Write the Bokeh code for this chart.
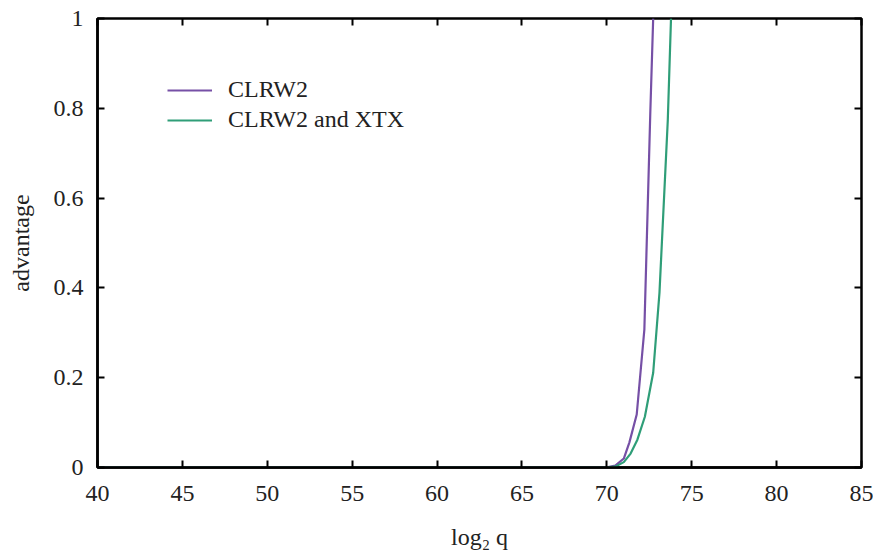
from bokeh.plotting import figure
from bokeh.models import (Range1d, FixedTicker, LinearAxis, Legend, LegendItem)
from bokeh.embed import file_html
from bokeh.resources import INLINE

# ---- data ----
q_clrw2 = [40, 45, 50, 55, 60, 65, 70, 70.5, 71.0, 71.33, 71.76, 72.21, 72.56, 72.73]
adv_clrw2 = [0, 0, 0, 0, 0, 0, 0.0005, 0.004, 0.02, 0.056, 0.118, 0.307, 0.79, 1.0]

q_xtx = [40, 45, 50, 55, 60, 65, 70, 70.5, 71.0, 71.4, 71.8, 72.24, 72.73, 73.1, 73.59, 73.78]
adv_xtx = [0, 0, 0, 0, 0, 0, 0.0003, 0.002, 0.012, 0.031, 0.062, 0.113, 0.211, 0.389, 0.773, 1.0]

xticks = [40, 45, 50, 55, 60, 65, 70, 75, 80, 85]
yticks = [0, 0.2, 0.4, 0.6, 0.8, 1]
ytick_labels = ["0", "0.2", "0.4", "0.6", "0.8", "1"]

series_names = ["CLRW2", "CLRW2 and XTX"]
colors = ["#7650a6", "#2f9e78"]

FONT = "Liberation Serif"
FS = "24px"
TXT = "#222222"

p = figure(width=873, height=552, output_backend="svg", toolbar_location=None,
           x_range=Range1d(40, 85), y_range=Range1d(0, 1),
           min_border_left=97, min_border_right=12, min_border_top=18, min_border_bottom=80)

p.xgrid.visible = False
p.ygrid.visible = False
p.outline_line_color = "black"
p.outline_line_width = 2.5
p.background_fill_color = "white"
p.border_fill_color = "white"

def style_axis(ax, ticks, show_labels=True):
    ax.ticker = FixedTicker(ticks=ticks)
    ax.major_tick_in = 7
    ax.major_tick_out = 0
    ax.major_tick_line_width = 2
    ax.major_tick_line_color = "black"
    ax.minor_tick_line_color = None
    ax.axis_line_color = "black"
    ax.axis_line_width = 2.5
    ax.major_label_text_font = FONT
    ax.major_label_text_color = TXT
    if show_labels:
        ax.major_label_text_font_size = FS
    else:
        ax.major_label_overrides = {t: "" for t in ticks}
        ax.major_label_text_font_size = "1px"
        ax.major_label_standoff = 0
        ax.axis_line_color = None

xa = p.xaxis[0]
style_axis(xa, xticks)
xa.major_label_standoff = 18
xa.axis_label = "log\u2082 q"
xa.axis_label_text_font = FONT
xa.axis_label_text_font_size = FS
xa.axis_label_text_font_style = "normal"
xa.axis_label_text_color = TXT
xa.axis_label_standoff = 20

ya = p.yaxis[0]
style_axis(ya, yticks)
ya.major_label_standoff = 14
ya.major_label_overrides = {t: l for t, l in zip(yticks, ytick_labels)}
ya.axis_label = "advantage"
ya.axis_label_text_font = FONT
ya.axis_label_text_font_size = FS
ya.axis_label_text_font_style = "normal"
ya.axis_label_text_color = TXT
ya.axis_label_standoff = 17

top_ax = LinearAxis()
style_axis(top_ax, xticks, show_labels=False)
p.add_layout(top_ax, "above")
right_ax = LinearAxis()
style_axis(right_ax, yticks, show_labels=False)
p.add_layout(right_ax, "right")

r1 = p.line(q_clrw2, adv_clrw2, line_color=colors[0], line_width=2.2)
r2 = p.line(q_xtx, adv_xtx, line_color=colors[1], line_width=2.2)

legend = Legend(items=[LegendItem(label=series_names[0], renderers=[r1]),
                       LegendItem(label=series_names[1], renderers=[r2])],
                location=(70, 334), orientation="vertical")
legend.border_line_color = None
legend.background_fill_alpha = 0
legend.padding = 0
legend.margin = 0
legend.spacing = 3
legend.glyph_width = 45
legend.glyph_height = 22
legend.label_standoff = 16
legend.label_text_font = FONT
legend.label_text_font_size = FS
legend.label_text_color = TXT
p.add_layout(legend, "center")

open("out.html", "w").write(file_html(p, INLINE))
